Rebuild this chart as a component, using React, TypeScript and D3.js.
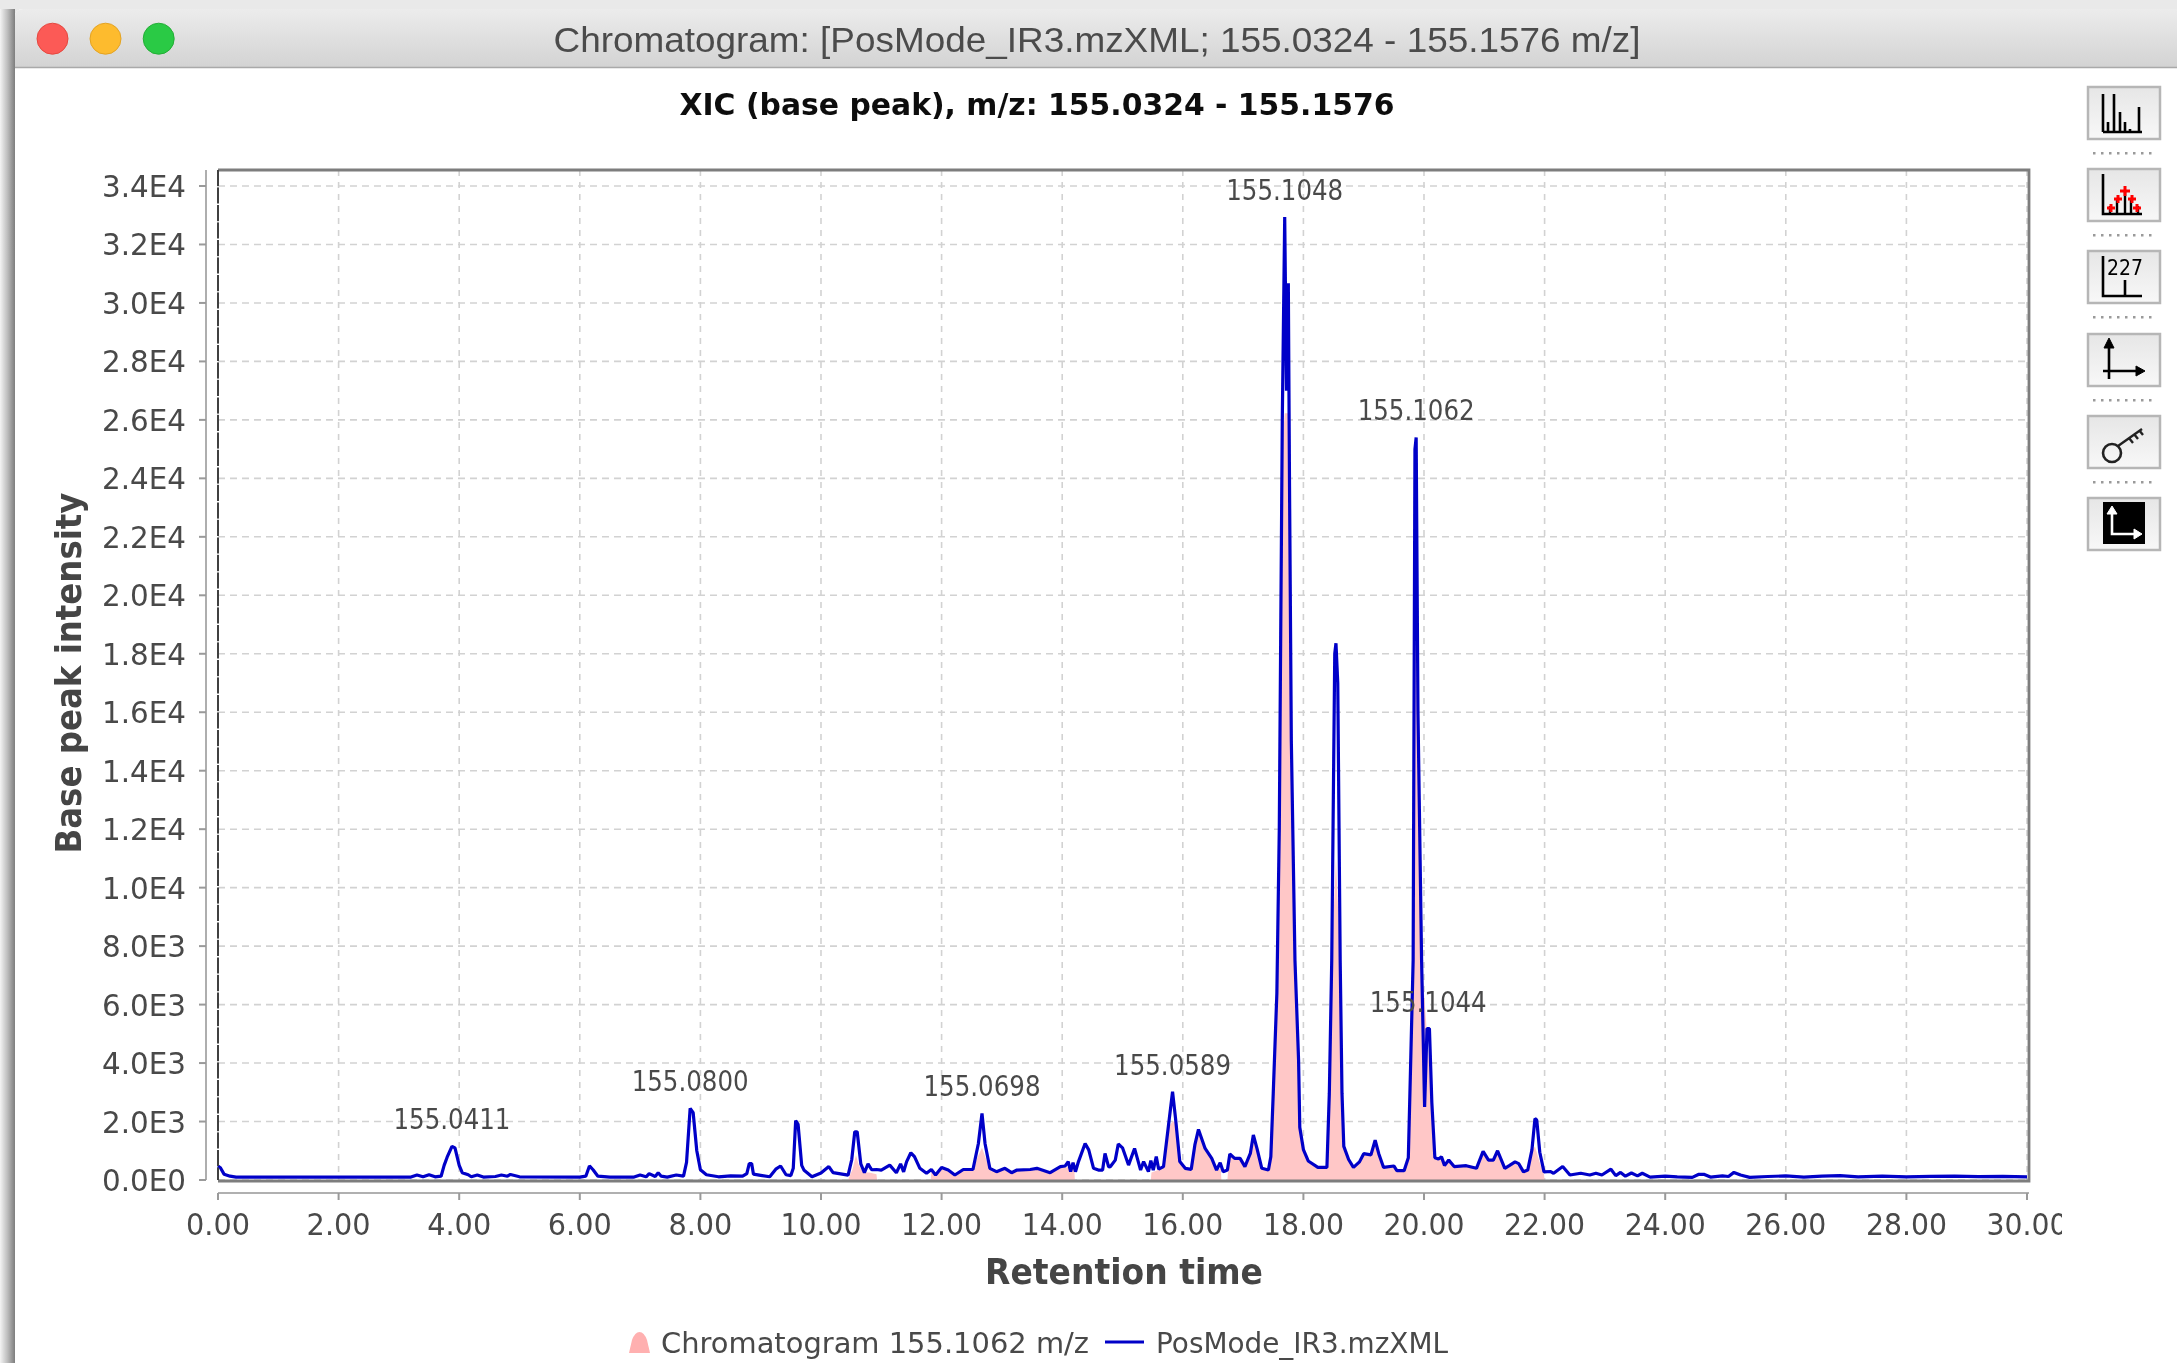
import React from "react";
import * as d3 from "d3";

// ---------- text ----------
const windowTitle = "Chromatogram: [PosMode_IR3.mzXML; 155.0324 - 155.1576 m/z]";
const chartTitle = "XIC (base peak), m/z: 155.0324 - 155.1576";
const xAxisTitle = "Retention time";
const yAxisTitle = "Base peak intensity";
const legendAreaLabel = "Chromatogram 155.1062 m/z";
const legendLineLabel = "PosMode_IR3.mzXML";

// ---------- ticks ----------
const xTicks = [0, 2, 4, 6, 8, 10, 12, 14, 16, 18, 20, 22, 24, 26, 28, 30];
const yTicks = d3.range(0, 34001, 2000);

// ---------- base peak trace, [retention time, intensity] ----------
const traceEarly: [number, number][] = [
  [0, 480], [0.04, 420], [0.1, 200], [0.2, 130], [0.3, 100], [1.5, 100], [3.2, 100], [3.3, 170], [3.4, 110], [3.5, 180],
  [3.6, 110], [3.7, 130], [3.75, 500], [3.8, 780], [3.88, 1150], [3.93, 1100], [4.0, 500], [4.05, 250], [4.15, 180], [4.2, 110],
  [4.3, 170], [4.4, 100], [4.6, 120], [4.7, 170], [4.8, 130], [4.85, 190], [5.0, 110], [6.0, 100], [6.1, 130], [6.16, 480],
  [6.22, 350], [6.3, 130], [6.5, 100], [6.9, 100], [7.0, 170], [7.1, 110], [7.15, 220], [7.25, 120], [7.3, 250], [7.35, 130],
  [7.45, 100], [7.6, 170], [7.72, 130], [7.77, 600], [7.83, 2450], [7.88, 2300], [7.94, 1000], [8.0, 350], [8.1, 180], [8.3, 110],
  [8.5, 140], [8.7, 130], [8.77, 220], [8.81, 560], [8.85, 560], [8.88, 200], [9.0, 160], [9.15, 110], [9.25, 370], [9.33, 480],
  [9.42, 180], [9.5, 150], [9.54, 400], [9.58, 2030], [9.62, 1900], [9.68, 500], [9.72, 330], [9.85, 110], [10.0, 240], [10.13, 460],
  [10.2, 250], [10.45, 165], [10.51, 700], [10.56, 1650], [10.6, 1650], [10.66, 550], [10.72, 250], [10.78, 550], [10.84, 350],
];
const traceMiddle: [number, number][] = [
  [10.92, 360], [11.0, 340], [11.14, 510], [11.25, 250], [11.32, 550], [11.37, 280], [11.42, 630], [11.49, 930], [11.55, 800], [11.64, 400],
  [11.75, 230], [11.83, 360], [11.9, 170], [12.0, 430], [12.11, 340], [12.22, 170], [12.36, 360], [12.52, 360], [12.61, 1250], [12.67, 2280],
  [12.72, 1250], [12.8, 400], [12.91, 285], [13.05, 400], [13.16, 250], [13.25, 340], [13.47, 360], [13.58, 400], [13.8, 250], [13.97, 456],
  [14.05, 480], [14.1, 630], [14.14, 285], [14.18, 590], [14.22, 285], [14.27, 630], [14.38, 1250], [14.44, 1030], [14.52, 400], [14.6, 340],
  [14.67, 340], [14.71, 910], [14.77, 450], [14.8, 460], [14.88, 680], [14.93, 1230], [15.0, 1100], [15.1, 510], [15.2, 1080], [15.3, 340],
  [15.35, 630], [15.43, 285], [15.47, 660], [15.51, 340], [15.56, 800], [15.6, 370], [15.68, 456], [15.76, 1820], [15.83, 3020], [15.88, 2100],
  [15.95, 630], [16.04, 400], [16.14, 365], [16.2, 1200], [16.26, 1730], [16.37, 1080], [16.48, 740], [16.56, 340], [16.62, 590], [16.67, 285],
  [16.74, 340], [16.78, 890], [16.86, 740], [16.95, 740], [17.03, 456], [17.12, 910], [17.17, 1540], [17.23, 1080], [17.31, 400], [17.42, 340],
];
const traceMainPeaks: [number, number][] = [
  [17.46, 800], [17.5, 2970], [17.56, 6390], [17.6, 12000], [17.65, 26000], [17.69, 32940], [17.72, 27000], [17.75, 30670], [17.77, 23700], [17.8, 15000],
  [17.86, 7520], [17.92, 4100], [17.94, 1800], [18.0, 1040], [18.08, 650], [18.24, 430], [18.39, 430], [18.43, 2970], [18.47, 7520], [18.52, 18000],
  [18.54, 18360], [18.57, 17000], [18.61, 7520], [18.64, 2970], [18.67, 1150], [18.75, 700], [18.83, 430], [18.93, 620], [19.0, 900], [19.12, 860],
  [19.19, 1360], [19.25, 900], [19.33, 430], [19.5, 480], [19.55, 320], [19.67, 320], [19.74, 760], [19.78, 4100], [19.82, 7520], [19.85, 25000],
  [19.87, 25400], [19.9, 16000], [19.96, 7520], [20.01, 2500], [20.05, 5180], [20.09, 5180], [20.13, 2650], [20.18, 760],
];
const traceTail: [number, number][] = [
  [20.24, 720], [20.29, 790], [20.34, 500], [20.41, 680], [20.5, 460], [20.7, 490], [20.87, 400], [20.98, 980], [21.07, 680], [21.15, 680],
  [21.22, 1000], [21.34, 400], [21.42, 500], [21.51, 620], [21.57, 560], [21.65, 280], [21.72, 340], [21.79, 1030], [21.84, 2100], [21.87, 2050],
  [21.92, 950], [21.99, 280], [22.1, 290], [22.15, 230], [22.3, 460], [22.42, 170], [22.6, 230], [22.75, 170], [22.85, 230], [22.95, 170],
  [23.1, 370], [23.18, 150], [23.26, 260], [23.34, 130], [23.44, 240], [23.54, 140], [23.62, 230], [23.75, 100], [24.0, 130], [24.2, 110],
  [24.45, 90], [24.55, 190], [24.65, 190], [24.75, 100], [24.95, 140], [25.05, 120], [25.14, 260], [25.25, 170], [25.4, 90], [25.7, 120],
  [26.0, 140], [26.3, 100], [26.6, 135], [26.9, 150], [27.2, 110], [27.6, 135], [28.0, 110], [28.4, 125], [28.8, 135], [29.2, 115], [29.6, 125], [30, 110],
];
const traceSections = [traceEarly, traceMiddle, traceMainPeaks, traceTail];

// ---------- extracted chromatogram, drawn only where it was detected ----------
const chromFirst: [number, number][] = [
  [10.45, 0], [10.47, 120], [10.52, 350], [10.58, 850], [10.63, 500], [10.7, 260], [10.8, 260], [10.92, 200], [10.93, 0],
];
const chromSecond: [number, number][] = [
  [11.82, 0], [11.83, 300], [11.9, 150], [12.0, 390], [12.11, 310], [12.22, 150], [12.36, 320], [12.52, 330], [12.6, 800], [12.67, 1100],
  [12.74, 700], [12.8, 370], [12.91, 260], [13.05, 360], [13.16, 220], [13.25, 300], [13.47, 320], [13.58, 360], [13.8, 220], [13.97, 420],
  [14.05, 440], [14.2, 430], [14.21, 0],
];
const chromThird: [number, number][] = [
  [15.47, 0], [15.48, 260], [15.56, 320], [15.68, 430], [15.76, 1800], [15.83, 2000], [15.88, 2000], [15.95, 600], [16.04, 380], [16.14, 340],
  [16.2, 1150], [16.26, 1680], [16.37, 1050], [16.48, 710], [16.56, 320], [16.63, 400], [16.64, 0],
];
const chromFourth: [number, number][] = [
  [16.74, 0], [16.75, 300], [16.78, 860], [16.86, 710], [16.95, 710], [17.03, 430], [17.12, 880], [17.17, 1500], [17.23, 1050], [17.31, 370],
  [17.42, 310], [17.46, 780], [17.5, 2950], [17.56, 6350], [17.6, 11900], [17.65, 25000], [17.69, 26230], [17.75, 26230], [17.8, 15000], [17.86, 7500],
  [17.92, 4050], [17.94, 1750], [18.0, 1000], [18.08, 620], [18.24, 400], [18.39, 400], [18.43, 2950], [18.47, 7500], [18.54, 11000], [18.61, 7500],
  [18.64, 2950], [18.67, 1120], [18.75, 670], [18.83, 400], [18.93, 590], [19.0, 870], [19.12, 830], [19.19, 1330], [19.25, 870], [19.33, 400],
  [19.5, 450], [19.55, 290], [19.67, 290], [19.74, 730], [19.78, 4050], [19.82, 7500], [19.85, 25000], [19.87, 25400], [19.9, 16000], [19.96, 7500],
  [20.05, 5000], [20.13, 2600], [20.18, 730], [20.29, 720], [20.34, 470], [20.41, 650], [20.5, 430], [20.7, 460], [20.87, 370], [20.98, 950],
  [21.07, 650], [21.15, 650], [21.22, 970], [21.34, 370], [21.51, 590], [21.65, 250], [21.72, 310], [21.79, 1000], [21.84, 1150], [21.92, 600],
  [21.99, 200], [22.0, 0],
];
const chromSegments = [chromFirst, chromSecond, chromThird, chromFourth];

// ---------- peak labels ----------
const peakLabels = ["155.0411", "155.0800", "155.0698", "155.0589", "155.1048", "155.1062", "155.1044"];
const peakLabelTimes = [3.88, 7.83, 12.67, 15.83, 17.69, 19.87, 20.07];
const peakLabelHeights = [1150, 2450, 2280, 3020, 32940, 25400, 5180];

// ---------- chrome ----------
const WIDTH = 2177;
const HEIGHT = 1363;
const plot = { left: 218, right: 2027, frameRight: 2029, top: 170, bottom: 1180 };
const trafficLights = [
  { cx: 52.5, fill: "#fc5a56", stroke: "#e5483f" },
  { cx: 105.5, fill: "#fdbb2f", stroke: "#e3a323" },
  { cx: 158.7, fill: "#2bca44", stroke: "#24ae37" },
];
const toolbarTops = [87, 169, 251, 334, 416, 498];

function Button({ y, children }: { y: number; children?: React.ReactNode }) {
  const dots = d3.range(0, 8).map((i) => 2093 + i * 8);
  return (
    <g>
      <rect x={2088} y={y} width={72} height={52} fill="url(#btn)" stroke="#b6b6b6" strokeWidth={2.5} />
      <g transform={`translate(2087,${y - 1})`}>{children}</g>
      {y < 498 && dots.map((d) => <rect key={d} x={d} y={y + 65} width={2.5} height={2.5} fill="#9a9a9a" />)}
    </g>
  );
}

function Axes() {
  return <path d="M16 6V46H55" fill="none" stroke="#000" strokeWidth={2.6} />;
}

export default function App() {
  const x = d3.scaleLinear().domain([0, 30]).range([plot.left, plot.right]);
  const y = d3.scaleLinear().domain([0, 34000]).range([plot.bottom, 186]);
  const trace = traceSections.flat();
  const line = d3.line<[number, number]>().x((d) => x(d[0])).y((d) => y(d[1]));
  const area = d3
    .area<[number, number]>()
    .x((d) => x(d[0]))
    .y0(y(0))
    .y1((d) => y(d[1]));
  const tickFormat = (v: number) => v.toExponential(1).replace("e+", "E");
  const chartFont = "'DejaVu Sans', sans-serif";
  const ink = "#484848";

  return (
    <svg
      width={WIDTH}
      height={HEIGHT}
      viewBox={`0 0 ${WIDTH} ${HEIGHT}`}
      style={{ position: "fixed", left: 0, top: 0, display: "block" }}
    >
      <defs>
        <linearGradient id="shadow" x1="0" x2="1" y1="0" y2="0">
          <stop offset="0" stopColor="#f4f4f4" />
          <stop offset="0.5" stopColor="#bdbdbd" />
          <stop offset="1" stopColor="#7d7d7d" />
        </linearGradient>
        <linearGradient id="bar" x1="0" x2="0" y1="0" y2="1">
          <stop offset="0" stopColor="#ececec" />
          <stop offset="1" stopColor="#d3d3d3" />
        </linearGradient>
        <linearGradient id="btn" x1="0" x2="0" y1="0" y2="1">
          <stop offset="0" stopColor="#e6e6e6" />
          <stop offset="1" stopColor="#f8f8f8" />
        </linearGradient>
        <filter id="soft" filterUnits="userSpaceOnUse" x="0" y="0" width={WIDTH} height={HEIGHT}>
          <feGaussianBlur stdDeviation="0.7" />
        </filter>
        <clipPath id="axisClip">
          <rect x={0} y={0} width={2062} height={HEIGHT} />
        </clipPath>
      </defs>

      <g filter="url(#soft)">
        <rect width={WIDTH} height={HEIGHT} fill="#e9e9e9" />
        <rect x={0} y={9} width={15} height={HEIGHT - 9} fill="url(#shadow)" />
        <path d={`M15 ${HEIGHT}V17Q15 9 23 9H${WIDTH}V${HEIGHT}Z`} fill="#fff" />
        <path d={`M15 67V17Q15 9 23 9H${WIDTH}V67Z`} fill="url(#bar)" />
        <line x1={15} x2={WIDTH} y1={67.5} y2={67.5} stroke="#a9a9a9" strokeWidth={1.5} />
        {trafficLights.map((l) => (
          <ellipse key={l.cx} cx={l.cx} cy={38.7} rx={15.5} ry={15.5} fill={l.fill} stroke={l.stroke} strokeWidth={1} />
        ))}
        <text
          x={1097}
          y={52}
          textAnchor="middle"
          fontFamily="'Liberation Sans', sans-serif"
          fontSize={35}
          fill="#4c4c4c"
          textLength={1087}
          lengthAdjust="spacingAndGlyphs"
        >
          {windowTitle}
        </text>
        <text
          x={1037}
          y={115}
          textAnchor="middle"
          fontFamily={chartFont}
          fontWeight="bold"
          fontSize={31}
          fill="#111"
          textLength={715}
          lengthAdjust="spacingAndGlyphs"
        >
          {chartTitle}
        </text>

        {/* grid */}
        {xTicks.map((t) => (
          <line key={t} x1={x(t)} x2={x(t)} y1={plot.top} y2={plot.bottom} stroke="#d2d2d2" strokeWidth={1.6} strokeDasharray="6 6" />
        ))}
        {yTicks.map((t) => (
          <line key={t} x1={plot.left} x2={plot.frameRight} y1={y(t)} y2={y(t)} stroke="#d2d2d2" strokeWidth={1.6} strokeDasharray="7 5" />
        ))}

        {/* series */}
        {chromSegments.map((seg, i) => (
          <path key={i} d={area(seg) ?? ""} fill="#ffc7c7" />
        ))}
        <path d={line(trace) ?? ""} fill="none" stroke="#0000c8" strokeWidth={3.2} strokeLinejoin="bevel" />

        {/* frame */}
        <path d={`M${plot.left} ${plot.top}H${plot.frameRight}V${plot.bottom + 1}H${plot.left}`} fill="none" stroke="#7d7d7d" strokeWidth={2.8} />
        <line x1={plot.left} x2={plot.left} y1={plot.top} y2={plot.bottom} stroke="#404040" strokeWidth={2} strokeDasharray="16 1.5" />

        {/* peak labels */}
        {peakLabels.map((label, i) => (
          <text
            key={label}
            x={x(peakLabelTimes[i])}
            y={y(peakLabelHeights[i]) - 17}
            textAnchor="middle"
            fontFamily={chartFont}
            fontSize={28}
            fill="#4a4a4a"
            textLength={117}
            lengthAdjust="spacingAndGlyphs"
          >
            {label}
          </text>
        ))}

        {/* y axis */}
        <line x1={206} x2={206} y1={plot.top} y2={plot.bottom} stroke="#aeaeae" strokeWidth={2} />
        {yTicks.map((t) => (
          <g key={t}>
            <line x1={199} x2={206} y1={y(t)} y2={y(t)} stroke="#9a9a9a" strokeWidth={2} />
            <text x={186} y={y(t) + 11} textAnchor="end" fontFamily={chartFont} fontSize={31} fill={ink} textLength={84} lengthAdjust="spacingAndGlyphs">
              {tickFormat(t)}
            </text>
          </g>
        ))}
        <text
          transform={`translate(81,673) rotate(-90)`}
          textAnchor="middle"
          fontFamily={chartFont}
          fontWeight="bold"
          fontSize={35}
          fill="#444"
          textLength={361}
          lengthAdjust="spacingAndGlyphs"
        >
          {yAxisTitle}
        </text>

        {/* x axis */}
        <line x1={plot.left} x2={plot.frameRight} y1={1193} y2={1193} stroke="#b0b0b0" strokeWidth={2} />
        <g clipPath="url(#axisClip)">
          {xTicks.map((t) => (
            <g key={t}>
              <line x1={x(t)} x2={x(t)} y1={1193} y2={1200} stroke="#9a9a9a" strokeWidth={2} />
              <text
                x={x(t)}
                y={1235}
                textAnchor="middle"
                fontFamily={chartFont}
                fontSize={31}
                fill={ink}
                textLength={t < 10 ? 64 : 81}
                lengthAdjust="spacingAndGlyphs"
              >
                {t.toFixed(2)}
              </text>
            </g>
          ))}
        </g>
        <text
          x={1124}
          y={1284}
          textAnchor="middle"
          fontFamily={chartFont}
          fontWeight="bold"
          fontSize={35}
          fill="#444"
          textLength={278}
          lengthAdjust="spacingAndGlyphs"
        >
          {xAxisTitle}
        </text>

        {/* legend */}
        <path d="M629 1353L632 1340Q635 1332 639.5 1332Q644 1332 647 1340L650 1353Z" fill="#ffb0b0" />
        <text x={661} y={1353} fontFamily={chartFont} fontSize={29} fill={ink} textLength={428} lengthAdjust="spacingAndGlyphs">
          {legendAreaLabel}
        </text>
        <line x1={1105} x2={1144} y1={1342} y2={1342} stroke="#0000c8" strokeWidth={3} />
        <text x={1156} y={1353} fontFamily={chartFont} fontSize={29} fill={ink} textLength={292} lengthAdjust="spacingAndGlyphs">
          {legendLineLabel}
        </text>

        {/* toolbar */}
        <Button y={toolbarTops[0]}>
          <path d="M16 8V46M21 36V46M27 8V46M33 26V46M38 36V46M43 43V46M52 21V46M16 46H55" fill="none" stroke="#000" strokeWidth={2.6} />
        </Button>
        <Button y={toolbarTops[1]}>
          <Axes />
          <path d="M23 46V38M30 46V30M38 46V22M44 46V30M51 46V38" stroke="#000" strokeWidth={2.4} />
          <path d="M38 18V28M33 23H43M31 27V35M27 31H35M45 27V35M41 31H49M24 36V44M20 40H28M50 36V44M46 40H54" stroke="#f00" strokeWidth={3} />
        </Button>
        <Button y={toolbarTops[2]}>
          <Axes />
          <path d="M38 30V46" stroke="#000" strokeWidth={2.6} />
          <text x={20} y={25} fontFamily={chartFont} fontSize={21} fill="#000" textLength={36} lengthAdjust="spacingAndGlyphs">
            227
          </text>
        </Button>
        <Button y={toolbarTops[3]}>
          <path d="M22 8V46M16 38H56" fill="none" stroke="#000" strokeWidth={2.6} />
          <path d="M17 15L22 5L27 15Z" fill="#000" stroke="#000" />
          <path d="M49 33L58 38L49 43Z" fill="#000" stroke="#000" />
        </Button>
        <Button y={toolbarTops[4]}>
          <circle cx={25} cy={38} r={9} fill="none" stroke="#222" strokeWidth={2.6} />
          <path d="M31 31L55 14M42 23L46 28M47 19L51 24M52 15L56 20" fill="none" stroke="#222" strokeWidth={2.4} />
        </Button>
        <Button y={toolbarTops[5]}>
          <rect x={16} y={5} width={42} height={42} fill="#000" />
          <path d="M25 12V37H53" fill="none" stroke="#fff" strokeWidth={2.6} />
          <path d="M20 17L25 9L30 17Z" fill="#fff" stroke="#fff" />
          <path d="M47 32L55 37L47 42Z" fill="#fff" stroke="#fff" />
        </Button>
      </g>
    </svg>
  );
}
